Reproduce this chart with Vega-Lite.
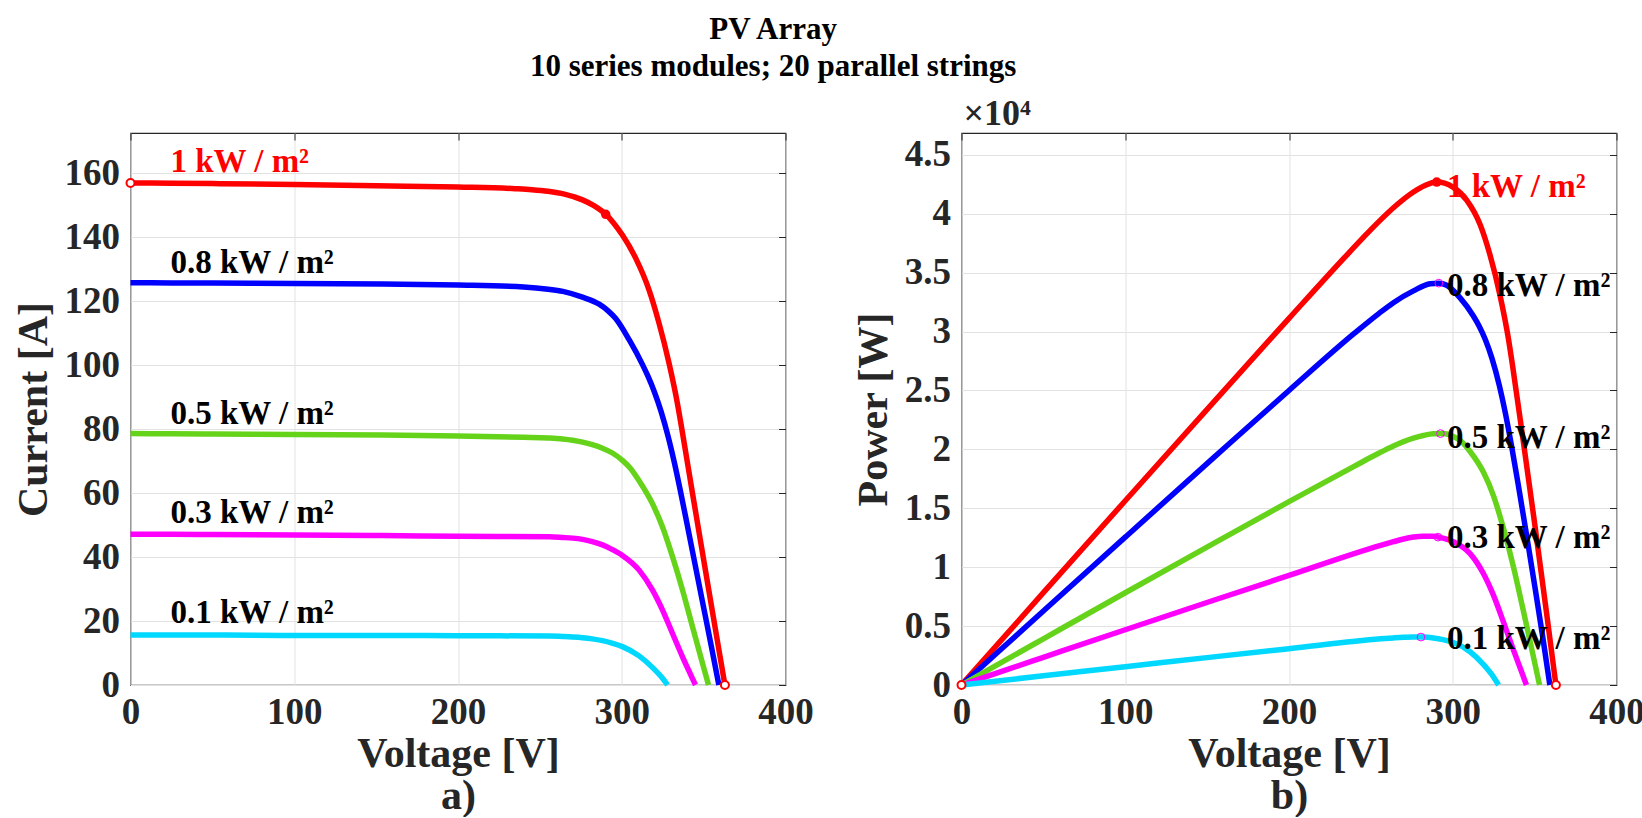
{
  "$schema": "https://vega.github.io/schema/vega-lite/v6.json",
  "background": "#ffffff",
  "padding": {"left": 10.5, "top": 14, "right": 0, "bottom": 0},
  "config": {
    "font": "Liberation Serif",
    "view": {"stroke": "#262626", "strokeWidth": 1.2},
    "axis": {
      "labelFont": "Liberation Serif", "labelFontSize": 37, "labelFontWeight": "bold", "labelColor": "#262626",
      "titleFont": "Liberation Serif", "titleFontSize": 42, "titleFontWeight": "bold", "titleColor": "#262626",
      "grid": true, "gridColor": "#e2e2e2", "gridWidth": 1,
      "domain": false, "ticks": false,
      "labelFlush": false, "labelOverlap": false, "labelPadding": 11
    },
    "axisX": {"titlePadding": 3, "titleLineHeight": 42, "labelPadding": 9},
    "axisY": {"titlePadding": 9}
  },
  "title": {
    "text": ["PV Array", "10 series modules; 20 parallel strings"],
    "font": "Liberation Serif", "fontSize": 31, "fontWeight": "bold", "color": "#000000",
    "lineHeight": 37, "anchor": "middle", "dx": -55, "offset": 12
  },
  "datasets": {
    "iv": [
      {"g": "1", "V": 0, "I": 156.9, "P": 0},
      {"g": "1", "V": 25, "I": 156.8, "P": 3920},
      {"g": "1", "V": 50, "I": 156.7, "P": 7835},
      {"g": "1", "V": 100, "I": 156.4, "P": 15640},
      {"g": "1", "V": 150, "I": 156.0, "P": 23400},
      {"g": "1", "V": 200, "I": 155.6, "P": 31120},
      {"g": "1", "V": 235, "I": 155.1, "P": 36449},
      {"g": "1", "V": 245, "I": 154.8, "P": 37926},
      {"g": "1", "V": 255, "I": 154.3, "P": 39347},
      {"g": "1", "V": 265, "I": 153.4, "P": 40651},
      {"g": "1", "V": 276, "I": 151.6, "P": 41842},
      {"g": "1", "V": 283, "I": 149.8, "P": 42393},
      {"g": "1", "V": 290.2, "I": 147.1, "P": 42688},
      {"g": "1", "V": 295, "I": 144.4, "P": 42598},
      {"g": "1", "V": 300.4, "I": 140.6, "P": 42236},
      {"g": "1", "V": 308.5, "I": 133.4, "P": 41154},
      {"g": "1", "V": 316.7, "I": 123.4, "P": 39081},
      {"g": "1", "V": 322.8, "I": 113.0, "P": 36476},
      {"g": "1", "V": 328.9, "I": 100.5, "P": 33054},
      {"g": "1", "V": 334, "I": 88.0, "P": 29392},
      {"g": "1", "V": 336.5, "I": 80.6, "P": 27122},
      {"g": "1", "V": 343.4, "I": 59.3, "P": 20364},
      {"g": "1", "V": 350.3, "I": 38.3, "P": 13416},
      {"g": "1", "V": 357.1, "I": 17.7, "P": 6321},
      {"g": "1", "V": 363, "I": 0, "P": 0},
      {"g": "0.8", "V": 0, "I": 125.7, "P": 0},
      {"g": "0.8", "V": 25, "I": 125.65, "P": 3141},
      {"g": "0.8", "V": 50, "I": 125.6, "P": 6280},
      {"g": "0.8", "V": 100, "I": 125.5, "P": 12550},
      {"g": "0.8", "V": 154, "I": 125.3, "P": 19296},
      {"g": "0.8", "V": 200, "I": 125.0, "P": 25000},
      {"g": "0.8", "V": 240, "I": 124.4, "P": 29856},
      {"g": "0.8", "V": 255, "I": 123.7, "P": 31544},
      {"g": "0.8", "V": 264, "I": 123.0, "P": 32472},
      {"g": "0.8", "V": 276, "I": 121.2, "P": 33451},
      {"g": "0.8", "V": 286.2, "I": 119.0, "P": 34058},
      {"g": "0.8", "V": 291.5, "I": 117.0, "P": 34106},
      {"g": "0.8", "V": 296.3, "I": 114.5, "P": 33926},
      {"g": "0.8", "V": 304.5, "I": 107.9, "P": 32856},
      {"g": "0.8", "V": 312.6, "I": 100.2, "P": 31323},
      {"g": "0.8", "V": 316, "I": 96.5, "P": 30494},
      {"g": "0.8", "V": 320, "I": 91.5, "P": 29280},
      {"g": "0.8", "V": 324, "I": 85.5, "P": 27702},
      {"g": "0.8", "V": 328.5, "I": 77.3, "P": 25393},
      {"g": "0.8", "V": 332, "I": 69.8, "P": 23174},
      {"g": "0.8", "V": 336, "I": 60.2, "P": 20227},
      {"g": "0.8", "V": 340, "I": 50.0, "P": 17000},
      {"g": "0.8", "V": 345, "I": 37.1, "P": 12800},
      {"g": "0.8", "V": 350, "I": 24.2, "P": 8470},
      {"g": "0.8", "V": 355, "I": 11.35, "P": 4029},
      {"g": "0.8", "V": 359.3, "I": 0, "P": 0},
      {"g": "0.5", "V": 0, "I": 78.6, "P": 0},
      {"g": "0.5", "V": 25, "I": 78.5, "P": 1963},
      {"g": "0.5", "V": 50, "I": 78.4, "P": 3920},
      {"g": "0.5", "V": 100, "I": 78.3, "P": 7830},
      {"g": "0.5", "V": 154, "I": 78.1, "P": 12027},
      {"g": "0.5", "V": 200, "I": 77.8, "P": 15560},
      {"g": "0.5", "V": 240, "I": 77.4, "P": 18576},
      {"g": "0.5", "V": 255, "I": 77.2, "P": 19686},
      {"g": "0.5", "V": 263.8, "I": 76.9, "P": 20286},
      {"g": "0.5", "V": 270, "I": 76.5, "P": 20655},
      {"g": "0.5", "V": 276, "I": 75.9, "P": 20948},
      {"g": "0.5", "V": 282, "I": 75.1, "P": 21178},
      {"g": "0.5", "V": 288.2, "I": 74.0, "P": 21327},
      {"g": "0.5", "V": 294.3, "I": 72.5, "P": 21337},
      {"g": "0.5", "V": 300.4, "I": 70.2, "P": 21088},
      {"g": "0.5", "V": 305.5, "I": 67.6, "P": 20652},
      {"g": "0.5", "V": 310.6, "I": 63.8, "P": 19816},
      {"g": "0.5", "V": 318.7, "I": 56.7, "P": 18070},
      {"g": "0.5", "V": 324.9, "I": 49.4, "P": 16050},
      {"g": "0.5", "V": 331, "I": 40.1, "P": 13273},
      {"g": "0.5", "V": 337.1, "I": 29.7, "P": 10012},
      {"g": "0.5", "V": 343.2, "I": 18.2, "P": 6246},
      {"g": "0.5", "V": 349.3, "I": 6.8, "P": 2375},
      {"g": "0.5", "V": 353, "I": 0, "P": 0},
      {"g": "0.3", "V": 0, "I": 47.1, "P": 0},
      {"g": "0.3", "V": 25, "I": 47.1, "P": 1178},
      {"g": "0.3", "V": 50, "I": 47.0, "P": 2350},
      {"g": "0.3", "V": 100, "I": 46.9, "P": 4690},
      {"g": "0.3", "V": 154, "I": 46.7, "P": 7192},
      {"g": "0.3", "V": 200, "I": 46.5, "P": 9300},
      {"g": "0.3", "V": 256, "I": 46.3, "P": 11853},
      {"g": "0.3", "V": 263.8, "I": 46.1, "P": 12161},
      {"g": "0.3", "V": 270, "I": 45.9, "P": 12393},
      {"g": "0.3", "V": 276, "I": 45.5, "P": 12558},
      {"g": "0.3", "V": 282, "I": 44.8, "P": 12634},
      {"g": "0.3", "V": 288.2, "I": 43.8, "P": 12623},
      {"g": "0.3", "V": 294, "I": 42.4, "P": 12466},
      {"g": "0.3", "V": 300.4, "I": 40.5, "P": 12166},
      {"g": "0.3", "V": 310.6, "I": 35.9, "P": 11151},
      {"g": "0.3", "V": 318.7, "I": 29.7, "P": 9465},
      {"g": "0.3", "V": 324.9, "I": 23.4, "P": 7603},
      {"g": "0.3", "V": 331, "I": 16.1, "P": 5329},
      {"g": "0.3", "V": 337.1, "I": 8.8, "P": 2966},
      {"g": "0.3", "V": 342.2, "I": 3.1, "P": 1061},
      {"g": "0.3", "V": 345, "I": 0, "P": 0},
      {"g": "0.1", "V": 0, "I": 15.6, "P": 0},
      {"g": "0.1", "V": 50, "I": 15.6, "P": 780},
      {"g": "0.1", "V": 100, "I": 15.5, "P": 1550},
      {"g": "0.1", "V": 154, "I": 15.5, "P": 2387},
      {"g": "0.1", "V": 200, "I": 15.4, "P": 3080},
      {"g": "0.1", "V": 256, "I": 15.3, "P": 3917},
      {"g": "0.1", "V": 263.8, "I": 15.15, "P": 3997},
      {"g": "0.1", "V": 270, "I": 15.0, "P": 4050},
      {"g": "0.1", "V": 276, "I": 14.78, "P": 4079},
      {"g": "0.1", "V": 282, "I": 14.42, "P": 4066},
      {"g": "0.1", "V": 288.2, "I": 13.85, "P": 3992},
      {"g": "0.1", "V": 294, "I": 13.1, "P": 3851},
      {"g": "0.1", "V": 300.4, "I": 12.0, "P": 3605},
      {"g": "0.1", "V": 310.6, "I": 9.1, "P": 2826},
      {"g": "0.1", "V": 318.7, "I": 5.5, "P": 1753},
      {"g": "0.1", "V": 324.9, "I": 2.1, "P": 682},
      {"g": "0.1", "V": 328, "I": 0, "P": 0}
    ],
    "mkL": [
      {"kind": "end", "V": 0, "I": 156.9},
      {"kind": "end", "V": 363, "I": 0},
      {"kind": "mpp", "V": 290.2, "I": 147.1}
    ],
    "mkR": [
      {"kind": "end", "V": 0, "P": 0},
      {"kind": "end", "V": 363, "P": 0},
      {"kind": "mpp", "V": 290.2, "P": 42688},
      {"kind": "small", "V": 291.5, "P": 34106},
      {"kind": "small", "V": 292.5, "P": 21340},
      {"kind": "small", "V": 291, "P": 12550},
      {"kind": "small", "V": 280.6, "P": 4069}
    ],
    "lab": [
      {"g": "1", "text": "1 kW / m²", "I": 160.3, "P": 41440},
      {"g": "0.8", "text": "0.8 kW / m²", "I": 128.8, "P": 32980},
      {"g": "0.5", "text": "0.5 kW / m²", "I": 81.7, "P": 20150},
      {"g": "0.3", "text": "0.3 kW / m²", "I": 50.5, "P": 11610},
      {"g": "0.1", "text": "0.1 kW / m²", "I": 19.3, "P": 3090}
    ],
    "scale": [
      {"t": "×10⁴"}
    ]
  },
  "bounds": "flush",
  "spacing": 176,
  "hconcat": [
    {
      "width": 655,
      "height": 552,
      "layer": [
        {
          "data": {"name": "iv"},
          "mark": {"type": "line", "strokeWidth": 5.5, "interpolate": "monotone"},
          "encoding": {
            "x": {"field": "V", "type": "quantitative", "scale": {"domain": [0, 400], "nice": false, "zero": false}, "axis": {"orient": "bottom", "title": ["Voltage [V]", "a)"], "values": [0, 100, 200, 300, 400]}},
            "y": {"field": "I", "type": "quantitative", "scale": {"domain": [0, 172.5], "nice": false}, "axis": {"orient": "left", "title": "Current [A]", "values": [0, 20, 40, 60, 80, 100, 120, 140, 160]}},
            "color": {"field": "g", "type": "nominal", "scale": {"domain": ["1", "0.8", "0.5", "0.3", "0.1"], "range": ["#ff0000", "#0000ff", "#66d31b", "#ff00ff", "#00d8ff"]}, "legend": null}
          }
        },
        {
          "data": {"name": "mkL"},
          "transform": [{"filter": "datum.kind === 'end'"}],
          "mark": {"type": "point", "shape": "circle", "filled": true, "fill": "#ffffff", "stroke": "#ff0000", "strokeWidth": 2, "size": 64, "opacity": 1},
          "encoding": {
            "x": {"field": "V", "type": "quantitative", "axis": {"orient": "top", "labels": false, "title": null, "grid": false, "domain": false, "ticks": true, "tickSize": 7, "offset": -7, "tickColor": "#262626", "tickWidth": 1, "values": [0, 100, 200, 300, 400]}},
            "y": {"field": "I", "type": "quantitative", "axis": {"orient": "right", "labels": false, "title": null, "grid": false, "domain": false, "ticks": true, "tickSize": 7, "offset": -7, "tickColor": "#262626", "tickWidth": 1, "values": [0, 20, 40, 60, 80, 100, 120, 140, 160]}}
          }
        },
        {
          "data": {"name": "mkL"},
          "transform": [{"filter": "datum.kind === 'mpp'"}],
          "mark": {"type": "point", "shape": "circle", "filled": true, "color": "#ff0000", "size": 90, "opacity": 1},
          "encoding": {
            "x": {"field": "V", "type": "quantitative", "axis": null},
            "y": {"field": "I", "type": "quantitative", "axis": null}
          }
        },
        {
          "data": {"name": "lab"},
          "mark": {"type": "text", "align": "left", "baseline": "alphabetic", "font": "Liberation Serif", "fontSize": 33, "fontWeight": "bold"},
          "encoding": {
            "x": {"datum": 24.4, "type": "quantitative", "axis": null},
            "y": {"field": "I", "type": "quantitative", "axis": null},
            "text": {"field": "text"},
            "color": {"condition": {"test": "datum.g === '1'", "value": "#ff0000"}, "value": "#000000"}
          }
        }
      ]
    },
    {
      "width": 655,
      "height": 552,
      "layer": [
        {
          "data": {"name": "iv"},
          "mark": {"type": "line", "strokeWidth": 5.5, "interpolate": "monotone"},
          "encoding": {
            "x": {"field": "V", "type": "quantitative", "scale": {"domain": [0, 400], "nice": false, "zero": false}, "axis": {"orient": "bottom", "title": ["Voltage [V]", "b)"], "values": [0, 100, 200, 300, 400]}},
            "y": {"field": "P", "type": "quantitative", "scale": {"domain": [0, 46850], "nice": false}, "axis": {"orient": "left", "title": "Power [W]", "values": [0, 5000, 10000, 15000, 20000, 25000, 30000, 35000, 40000, 45000], "labelExpr": "datum.value / 10000"}},
            "color": {"field": "g", "type": "nominal", "scale": {"domain": ["1", "0.8", "0.5", "0.3", "0.1"], "range": ["#ff0000", "#0000ff", "#66d31b", "#ff00ff", "#00d8ff"]}, "legend": null}
          }
        },
        {
          "data": {"name": "mkR"},
          "transform": [{"filter": "datum.kind === 'end'"}],
          "mark": {"type": "point", "shape": "circle", "filled": true, "fill": "#ffffff", "stroke": "#ff0000", "strokeWidth": 2, "size": 64, "opacity": 1},
          "encoding": {
            "x": {"field": "V", "type": "quantitative", "axis": {"orient": "top", "labels": false, "title": null, "grid": false, "domain": false, "ticks": true, "tickSize": 7, "offset": -7, "tickColor": "#262626", "tickWidth": 1, "values": [0, 100, 200, 300, 400]}},
            "y": {"field": "P", "type": "quantitative", "axis": {"orient": "right", "labels": false, "title": null, "grid": false, "domain": false, "ticks": true, "tickSize": 7, "offset": -7, "tickColor": "#262626", "tickWidth": 1, "values": [0, 5000, 10000, 15000, 20000, 25000, 30000, 35000, 40000, 45000]}}
          }
        },
        {
          "data": {"name": "mkR"},
          "transform": [{"filter": "datum.kind === 'mpp'"}],
          "mark": {"type": "point", "shape": "circle", "filled": true, "color": "#ff0000", "size": 90, "opacity": 1},
          "encoding": {
            "x": {"field": "V", "type": "quantitative", "axis": null},
            "y": {"field": "P", "type": "quantitative", "axis": null}
          }
        },
        {
          "data": {"name": "mkR"},
          "transform": [{"filter": "datum.kind === 'small'"}],
          "mark": {"type": "point", "shape": "circle", "filled": false, "color": "#ff00ff", "strokeWidth": 1, "size": 60, "opacity": 1},
          "encoding": {
            "x": {"field": "V", "type": "quantitative", "axis": null},
            "y": {"field": "P", "type": "quantitative", "axis": null}
          }
        },
        {
          "data": {"name": "lab"},
          "mark": {"type": "text", "align": "left", "baseline": "alphabetic", "font": "Liberation Serif", "fontSize": 33, "fontWeight": "bold"},
          "encoding": {
            "x": {"datum": 296.5, "type": "quantitative", "axis": null},
            "y": {"field": "P", "type": "quantitative", "axis": null},
            "text": {"field": "text"},
            "color": {"condition": {"test": "datum.g === '1'", "value": "#ff0000"}, "value": "#000000"}
          }
        },
        {
          "data": {"name": "scale"},
          "mark": {"type": "text", "align": "left", "baseline": "alphabetic", "font": "Liberation Serif", "fontSize": 36, "fontWeight": "bold", "color": "#262626", "dx": 2, "dy": -8},
          "encoding": {
            "x": {"datum": 0, "type": "quantitative", "axis": null},
            "y": {"datum": 46850, "type": "quantitative", "axis": null},
            "text": {"field": "t"}
          }
        }
      ]
    }
  ]
}
